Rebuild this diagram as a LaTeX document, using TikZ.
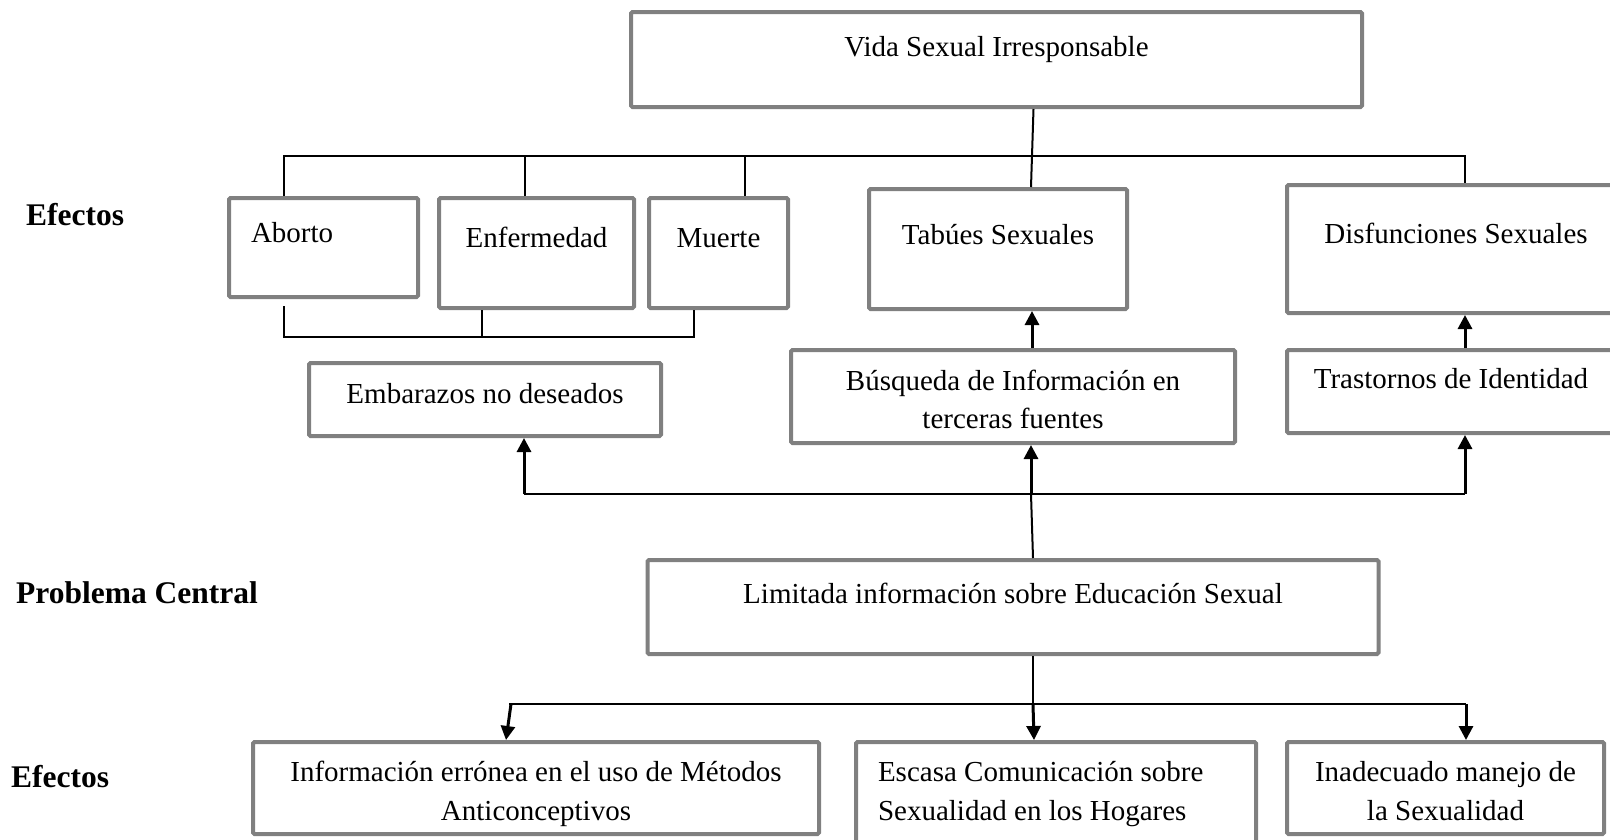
\documentclass[tikz,border=0pt]{standalone}
\usepackage{fontspec}
\setmainfont{Liberation Serif}
\usepackage{xcolor}
\usepackage{tikz}
\usetikzlibrary{arrows.meta,positioning}
\definecolor{boxgray}{RGB}{128,128,128}

\begin{document}
\begin{tikzpicture}[
    x=1pt, y=-1pt,
    font=\fontsize{29}{38.5}\selectfont,
    box/.style={draw=boxgray, line width=4pt, rounded corners=1.5pt, inner sep=0pt, align=center},
    onerow/.style={text height=20pt, text depth=#1},
    tworow/.style={text height=#1, text depth=#1-64pt},
    tag/.style={font=\fontsize{31.5}{38}\selectfont\bfseries, anchor=base west, inner sep=0pt},
    link/.style={line width=2pt},
    arrow/.style={-{Triangle[length=14pt,width=14pt]}, line width=3pt}
]
\useasboundingbox (0,0) rectangle (1610,839);
\clip (0,0) rectangle (1610,839);

\node[tag] (efectosA) at (26,225) {Efectos};
\node[tag] (central) at (16,603) {Problema Central};
\node[tag] (efectosB) at (11,787) {Efectos};

\node[box, onerow=27pt, minimum width=731pt, minimum height=95pt] (vida) at (996.5,59.5) {Vida Sexual Irresponsable};
\node[box, onerow=31pt, align=flush left, inner xsep=22pt, text width=145pt, minimum height=99pt] (aborto) at (323.5,247.5) {Aborto};
\node[box, onerow=32pt, minimum width=195pt, minimum height=110pt] (enf) at (536.5,253) {Enfermedad};
\node[box, onerow=32pt, minimum width=139pt, minimum height=110pt] (muerte) at (718.5,253) {Muerte};
\node[box, onerow=30pt, minimum width=258pt, minimum height=120pt] (tabues) at (998,249) {Tabúes Sexuales};
\node[box, onerow=32pt, minimum width=338pt, minimum height=128pt] (disf) at (1456,249) {Disfunciones Sexuales};
\node[box, onerow=13pt, minimum width=352pt, minimum height=73pt] (embar) at (485,399.5) {Embarazos no deseados};
\node[box, tworow=64pt, minimum width=444pt, minimum height=93pt] (busq) at (1013,396.5) {Búsqueda de Información en\\terceras fuentes};
\node[box, onerow=27pt, minimum width=328pt, minimum height=83pt] (trast) at (1451,391.5) {Trastornos de Identidad};
\node[box, onerow=28pt, minimum width=731pt, minimum height=94pt] (limit) at (1013,607) {Limitada información sobre Educación Sexual};
\node[box, tworow=71pt, minimum width=566pt, minimum height=92pt] (info) at (536,788) {Información errónea en el uso de Métodos\\Anticonceptivos};
\node[box, align=flush left, inner xsep=22pt, text width=356pt, minimum height=104pt] (escasa) at (1056,794) {Escasa Comunicación sobre\\Sexualidad en los Hogares};
\node[box, tworow=64pt, minimum width=317pt, minimum height=92pt] (inad) at (1445.5,788) {Inadecuado manejo de\\la Sexualidad};

\coordinate (midbus) at (1031,494);
\coordinate (lowbus) at (1033,704);

\draw[link] ([xshift=37]vida.south) -- ([xshift=33]tabues.north);
\draw[link] ([xshift=-40]aborto.north) -- ++(0,-40) -| ([xshift=9]disf.north);
\draw[link] ([xshift=-12]enf.north) -- ++(0,-40);
\draw[link] ([xshift=26]muerte.north) -- ++(0,-40);
\draw[link] ([xshift=-40,yshift=-7]aborto.south) -- ++(0,31) -| ([xshift=-25]muerte.south);
\draw[link] ([xshift=-55]enf.south) -- ++(0,28);

\draw[arrow] ([xshift=19]busq.north) -- ([xshift=19]busq.north |- tabues.south);
\draw[arrow] ([xshift=14]trast.north) -- ([xshift=9]disf.south);

\draw[link] ([xshift=20]limit.north) -- (midbus);
\draw[link] ([xshift=39]embar.south |- midbus) -- ([xshift=14]trast.south |- midbus);
\draw[arrow] (midbus) -- ([xshift=18]busq.south);
\draw[arrow] ([xshift=39]embar.south |- midbus) -- ([xshift=39]embar.south);
\draw[arrow] ([xshift=14]trast.south |- midbus) -- ([xshift=14]trast.south);

\draw[link] ([xshift=20]limit.south) -- (lowbus);
\draw[link] ([xshift=-27]info.north |- lowbus) -- ([xshift=20]inad.north |- lowbus);
\draw[arrow] ([xshift=-25]info.north |- lowbus) -- ([xshift=-30]info.north);
\draw[arrow] (lowbus) -- ([xshift=-22]escasa.north);
\draw[arrow] ([xshift=20.5]inad.north |- lowbus) -- ([xshift=20.5]inad.north);
\end{tikzpicture}
\end{document}
